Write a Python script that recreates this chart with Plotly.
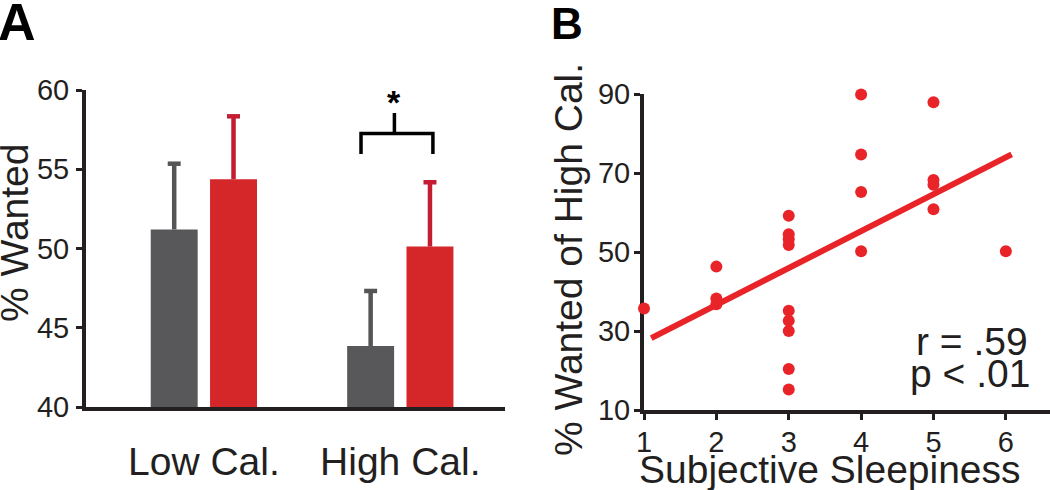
import plotly.graph_objects as go

# ---------------- data ----------------
categories = ["Low Cal.", "High Cal."]
rested_mean = [51.2, 43.85]
rested_sem = [4.15, 3.47]
deprived_mean = [54.37, 50.12]
deprived_sem = [3.97, 4.06]

sleepiness = [1, 2, 2, 2, 3, 3, 3, 3, 3, 3, 3, 3, 3, 4, 4, 4, 4, 5, 5, 5, 5, 6]
wanted_high = [35.7, 46.3, 38.2, 36.8, 59.2, 54.5, 53.2, 51.8, 35.1, 32.6, 30.0,
               20.4, 15.2, 89.9, 74.7, 65.2, 50.2, 87.9, 68.2, 67.0, 60.8, 50.2]
fit_x = [1.1, 6.08]
fit_y = [28.2, 74.7]

a_yticks = [40, 45, 50, 55, 60]
b_yticks = [10, 30, 50, 70, 90]
b_xticks = [1, 2, 3, 4, 5, 6]

# significance bracket (High Cal. comparison)
bracket_x = [0.80, 1.166]
bracket_stem_x = 0.97
bracket_top = 57.26
bracket_leg_bottom = 55.96
bracket_stem_top = 58.55

# ---------------- style ----------------
W, H = 1050, 490
GRAY = "#58585a"
GRAY_ERR = "#555557"
RED = "#d52629"
RED_ERR = "#c41d32"
PRED = "#e92429"
INK = "#231f20"
FONT = "Liberation Sans, Arial, Helvetica, sans-serif"

BAR_OFF = 0.151
BAR_W = 0.239
CAP_HALF = 0.033


def px(x):
    return x / W


def py(y):
    return 1 - y / H


fig = go.Figure()

pos = list(range(len(categories)))

for means, sems, off, col, ecol, name in [
    (rested_mean, rested_sem, -BAR_OFF, GRAY, GRAY_ERR, "Rested"),
    (deprived_mean, deprived_sem, BAR_OFF, RED, RED_ERR, "Sleep deprived"),
]:
    xs = [p + off for p in pos]
    fig.add_trace(go.Bar(x=xs, y=[m - 40 for m in means], base=40, width=BAR_W,
                         marker=dict(color=col, line=dict(width=0)),
                         name=name, showlegend=False, xaxis="x", yaxis="y"))
    ex, ey = [], []
    for x, m, s in zip(xs, means, sems):
        ex += [x, x, None, x - CAP_HALF, x + CAP_HALF, None]
        ey += [m, m + s, None, m + s, m + s, None]
    fig.add_trace(go.Scatter(x=ex, y=ey, mode="lines",
                             line=dict(color=ecol, width=4.5),
                             showlegend=False, hoverinfo="skip",
                             xaxis="x", yaxis="y"))

# bracket
fig.add_trace(go.Scatter(
    x=[bracket_x[0], bracket_x[0], bracket_x[1], bracket_x[1], None,
       bracket_stem_x, bracket_stem_x],
    y=[bracket_leg_bottom, bracket_top, bracket_top, bracket_leg_bottom, None,
       bracket_top, bracket_stem_top],
    mode="lines", line=dict(color="black", width=3.5),
    showlegend=False, hoverinfo="skip", xaxis="x", yaxis="y"))

# scatter panel B
fig.add_trace(go.Scatter(x=sleepiness, y=wanted_high, mode="markers",
                         marker=dict(color=PRED, size=12, line=dict(width=0)),
                         cliponaxis=False, showlegend=False,
                         xaxis="x2", yaxis="y2"))
fig.add_trace(go.Scatter(x=fit_x, y=fit_y, mode="lines",
                         line=dict(color=PRED, width=6),
                         showlegend=False, xaxis="x2", yaxis="y2"))

axis_common = dict(showgrid=False, zeroline=False, showline=True,
                   linecolor=INK, linewidth=4, ticks="outside",
                   tickcolor=INK, tickwidth=3, ticklen=6,
                   tickfont=dict(family=FONT, size=29, color=INK),
                   layer="below traces", automargin=False)

fig.update_layout(
    width=W, height=H,
    margin=dict(l=0, r=0, t=0, b=0, autoexpand=False),
    paper_bgcolor="white", plot_bgcolor="white",
    font=dict(family=FONT, color=INK),
    xaxis=dict(**axis_common, domain=[px(86), px(505)],
               range=[-0.6, 1.533], tickvals=pos, ticktext=categories,
               anchor="y"),
    yaxis=dict(**axis_common, domain=[py(407), py(90)], range=[40, 60],
               tickvals=a_yticks, anchor="x"),
    xaxis2=dict(**axis_common, domain=[px(644), 1.0], range=[1, 6.61],
                tickvals=b_xticks, anchor="y2"),
    yaxis2=dict(**axis_common, domain=[py(410), py(94)], range=[10, 90],
                tickvals=b_yticks, anchor="x2"),
)
fig.update_xaxes(selector=dict(anchor="y"), ticks="", ticklen=0,
                 tickfont=dict(size=39), ticklabelstandoff=17)
fig.update_yaxes(selector=dict(anchor="x"), ticklabelstandoff=1)
fig.update_yaxes(selector=dict(anchor="x2"), ticklabelstandoff=-2)
fig.update_xaxes(selector=dict(anchor="y2"), ticklabelstandoff=-3)

ann = []
# panel letters
ann.append(dict(text="<b>A</b>", x=px(-4), y=py(-9), xanchor="left", yanchor="top",
                font=dict(size=52, family=FONT, color="black")))
ann.append(dict(text="<b>B</b>", x=px(549), y=py(-3), xanchor="left", yanchor="top",
                font=dict(size=44, family=FONT, color="black")))
# axis titles
ann.append(dict(text="% Wanted", x=px(15), y=py(233), textangle=-90,
                xanchor="center", yanchor="middle",
                font=dict(size=39, family=FONT, color=INK)))
ann.append(dict(text="% Wanted of High Cal.", x=px(568), y=py(260), textangle=-90,
                xanchor="center", yanchor="middle",
                font=dict(size=39, family=FONT, color=INK)))
ann.append(dict(text="Subjective Sleepiness", x=px(830), y=py(469),
                xanchor="center", yanchor="middle",
                font=dict(size=39, family=FONT, color=INK)))
# stats
ann.append(dict(text="r = .59", x=px(1030), y=py(365), xanchor="right", yanchor="bottom",
                font=dict(size=39, family=FONT, color=INK)))
ann.append(dict(text="p < .01", x=px(1032), y=py(397), xanchor="right", yanchor="bottom",
                font=dict(size=39, family=FONT, color=INK)))
# asterisk
ann.append(dict(text="<b>*</b>", x=bracket_stem_x, y=59.5, xref="x", yref="y",
                xanchor="center", yanchor="middle", yshift=-4,
                font=dict(size=34, family=FONT, color="black")))

for a in ann:
    a.setdefault("xref", "paper")
    a.setdefault("yref", "paper")
    a["showarrow"] = False
fig.update_layout(annotations=ann)

fig.write_html("out.html", config={"displayModeBar": False},
               post_script="document.body.style.margin='0';"
                           "document.body.style.overflow='hidden';")
